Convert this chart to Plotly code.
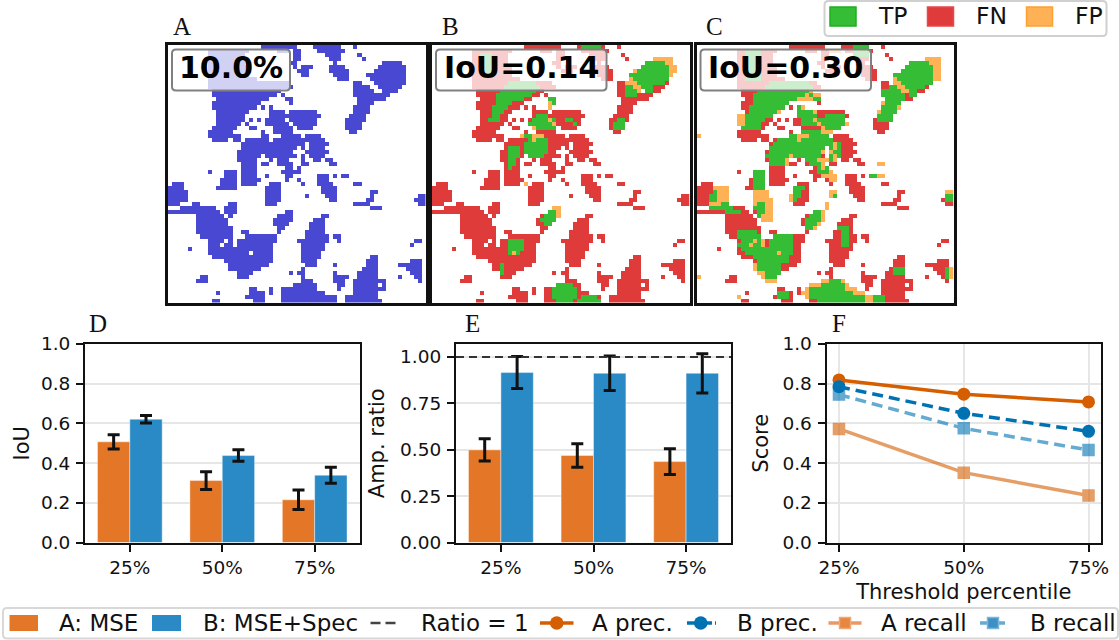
import numpy as np
import plotly.graph_objects as go

W, H = 1119, 640
CATS = ["25%", "50%", "75%"]
IOU_A = [0.507, 0.312, 0.215]
IOU_A_ERR = [0.036, 0.045, 0.049]
IOU_B = [0.621, 0.438, 0.339]
IOU_B_ERR = [0.019, 0.029, 0.04]
AMP_A = [0.499, 0.469, 0.436]
AMP_A_ERR = [0.06, 0.063, 0.07]
AMP_B = [0.916, 0.912, 0.912]
AMP_B_ERR = [0.086, 0.093, 0.106]
A_PREC = [0.819, 0.747, 0.708]
B_PREC = [0.785, 0.651, 0.56]
A_RECALL = [0.572, 0.352, 0.237]
B_RECALL = [0.745, 0.575, 0.466]

# Masks on a 64x64 raster, one entry per row: inclusive column runs
TRUTH = [
 [(23,31),(36,42),(46,46)],
 [(10,19),(27,29),(31,32),(37,43)],
 [(10,18),(31,32),(39,42),(47,47)],
 [(10,18),(31,32),(40,42),(48,48)],
 [(10,18),(30,31),(41,41),(53,57)],
 [(10,19),(31,31),(33,35),(40,43),(52,58)],
 [(10,19),(32,34),(40,44),(51,58)],
 [(10,19),(33,34),(41,44),(49,58)],
 [(10,21),(42,44),(50,58)],
 [(10,29),(46,47),(51,58)],
 [(10,30),(46,49),(52,57)],
 [(11,27),(46,50),(53,56)],
 [(11,26),(28,28),(46,51),(52,54)],
 [(12,24),(29,30),(47,51),(52,53)],
 [(11,22),(30,30),(47,50)],
 [(11,21),(23,23),(25,25),(46,49)],
 [(12,19),(25,28),(30,36),(46,49)],
 [(12,18),(25,29),(30,37),(45,48)],
 [(12,18),(20,20),(22,22),(24,28),(30,36),(44,48)],
 [(12,17),(19,19),(24,29),(31,36),(44,47)],
 [(11,16),(20,21),(26,30),(32,35),(44,47)],
 [(10,15),(23,23),(26,30),(45,46)],
 [(10,15),(16,17),(23,24),(28,32),(34,37)],
 [(11,14),(16,17),(19,24),(26,33),(34,38)],
 [(18,33),(35,39)],
 [(18,31),(33,33),(35,38)],
 [(17,30),(34,39)],
 [(17,22),(24,28),(29,31),(33,33),(35,38)],
 [(17,21),(25,25),(27,29),(33,33),(36,37),(39,40)],
 [(18,21),(23,24),(27,30),(33,34),(40,41)],
 [(18,21),(29,30),(32,32)],
 [(10,10),(14,16),(18,21),(28,30),(31,32)],
 [(14,16),(18,21),(24,24),(29,30),(37,39),(41,41),(43,44)],
 [(13,16),(18,22),(29,29),(32,32),(37,39)],
 [(1,3),(13,16),(18,21),(25,27),(33,33),(37,40),(46,47)],
 [(0,3),(12,16),(24,27),(38,41)],
 [(0,4),(24,27),(38,41),(50,51)],
 [(0,4),(24,27),(34,34),(39,41),(50,50),(62,63)],
 [(0,4),(24,27),(40,41),(49,50),(61,63)],
 [(0,2),(6,7),(15,16),(24,26),(46,49),(62,63)],
 [(3,9),(10,11),(14,16),(50,52)],
 [(0,1),(2,12),(14,16),(29,30)],
 [(7,13),(15,15),(27,30),(38,39)],
 [(7,14),(26,30),(36,37),(38,38)],
 [(7,14),(26,29),(35,37),(38,38)],
 [(7,15),(27,28),(35,38)],
 [(7,9),(10,15),(18,19),(27,27),(34,38)],
 [(8,9),(10,15),(19,19),(20,26),(34,39),(41,42)],
 [(10,13),(15,15),(17,17),(18,26),(32,33),(34,39),(42,42),(61,62)],
 [(10,12),(14,15),(17,25),(33,38),(60,60)],
 [(5,5),(10,15),(16,23),(24,25),(33,38)],
 [(10,16),(17,19),(21,25),(33,37)],
 [(11,25),(33,37),(50,51)],
 [(14,25),(33,36),(49,51),(60,62)],
 [(15,24),(34,36),(41,41),(49,51),(57,62)],
 [(15,22),(33,33),(48,51),(59,62)],
 [(17,20),(30,30),(32,33),(41,41),(47,51),(60,62)],
 [(8,9),(17,19),(33,33),(41,44),(47,51),(57,57),(61,62)],
 [(7,9),(33,35),(41,43),(46,51),(52,53),(62,62)],
 [(31,36),(42,43),(46,51),(53,53)],
 [(20,21),(25,25),(28,36),(42,42),(46,53)],
 [(12,12),(20,23),(25,25),(28,38),(46,51)],
 [(19,23),(28,41),(44,51)],
 [(11,12),(21,23),(28,41),(44,52)],
]

PRED_B = {
 0:[(37,41)], 2:[(12,14)], 3:[(12,14),(55,59)], 4:[(12,14),(53,59)], 5:[(12,14),(52,60)],
 6:[(12,14),(50,60)], 7:[(49,59)], 8:[(49,58)], 9:[(19,25),(48,57)], 10:[(18,26),(48,54)],
 11:[(17,25),(48,51),(53,54)], 12:[(16,24),(48,50)], 13:[(16,22),(29,30)], 14:[(16,19),(29,30)],
 15:[(15,18),(29,29)], 16:[(15,17)], 17:[(15,16),(26,28)], 18:[(14,16),(25,30),(33,34),(46,47)],
 19:[(24,30),(35,35),(45,47)], 20:[(25,30),(45,47)], 22:[(22,27)], 23:[(24,28)], 24:[(23,28)],
 25:[(19,21),(23,28)], 26:[(19,21),(23,28)], 27:[(19,21),(24,27)], 28:[(19,20)], 29:[(19,20)],
 30:[(19,19)], 34:[(23,23)], 40:[(30,31)], 41:[(29,31)], 42:[(28,31)], 43:[(27,30)], 44:[(28,29)],
 48:[(19,22)], 49:[(19,22)], 50:[(19,22)], 51:[(19,21)], 54:[(17,17)], 55:[(17,17)], 56:[(17,17)],
 59:[(31,34)], 60:[(30,35)], 61:[(30,35)], 62:[(30,35),(37,40)], 63:[(31,34),(36,41)],
}

PRED_C = {
 0:[(39,42)], 1:[(12,15),(33,35),(39,42)], 2:[(12,15),(39,42)], 3:[(12,15),(57,60)],
 4:[(12,15),(53,60)], 5:[(12,15),(52,60)], 6:[(12,15),(51,60)], 7:[(12,15),(49,60)],
 8:[(12,15),(49,60)], 9:[(18,27),(49,58)], 10:[(17,28),(48,56)], 11:[(15,28),(46,54)],
 12:[(14,30),(46,51),(53,54)], 13:[(14,30),(47,51)], 14:[(14,22),(46,50)], 15:[(13,21),(25,26),(46,50)],
 16:[(13,20),(25,29),(45,49)], 17:[(10,18),(25,29),(32,36),(45,48)], 18:[(10,16),(26,31),(32,36),(45,48)],
 19:[(10,15),(26,31),(32,37)], 20:[(11,15),(31,35)], 21:[(26,33)], 22:[(0,0),(23,32)],
 23:[(20,33)], 24:[(19,32),(33,35)], 25:[(18,31),(33,35)], 26:[(18,31),(33,35)],
 27:[(17,30),(33,35)], 28:[(18,22),(27,32),(33,34)], 29:[(18,22),(28,31),(45,46)], 30:[(30,32)],
 31:[(14,16),(30,33)], 32:[(14,16),(31,34),(43,46)], 33:[(14,16),(33,34)], 34:[(14,16)],
 35:[(4,7),(14,16),(24,26)], 36:[(4,7),(14,17),(24,25),(33,34),(62,63)], 37:[(3,7),(14,17),(23,25),(33,34),(62,63)],
 38:[(3,7),(14,18),(23,24),(62,63)], 39:[(3,7),(14,18),(32,32)], 40:[(3,8),(14,18),(32,32)],
 41:[(7,10),(15,18),(29,31)], 42:[(15,18),(28,31)], 43:[(16,18),(27,31)], 44:[(27,30)],
 45:[(27,29),(35,37)], 46:[(10,14),(36,37)], 47:[(10,15),(19,23),(36,37)], 48:[(11,16),(18,23),(36,37)],
 49:[(10,16),(18,23),(36,37)], 50:[(11,23)], 51:[(12,23)], 52:[(14,22)], 53:[(15,22)],
 54:[(14,20)], 55:[(14,20),(49,51),(62,63)], 56:[(15,20),(49,51),(62,63)], 57:[(0,0),(16,19),(62,63)],
 58:[(17,19),(31,36)], 59:[(28,37)], 60:[(27,39)], 61:[(20,22),(26,41)], 62:[(10,10),(20,22),(27,42),(43,46)],
 63:[(30,42),(43,46)],
}

ORANGE = "#E37627"; BLUE = "#2A8AC5"
C_A = "#D55E00"; C_B = "#0072B2"
C_TP = "#35BD35"; C_FN = "#E03B3B"; C_FP = "#FFB155"; C_MASK = "#4848D2"
FONT = "DejaVu Sans"; SERIF = "Liberation Serif"


def raster(runs_by_row):
    m = np.zeros((64, 64), dtype=bool)
    items = enumerate(runs_by_row) if isinstance(runs_by_row, list) else runs_by_row.items()
    for r, runs in items:
        for a, b in runs:
            m[r, a:b + 1] = True
    return m


truth = raster(TRUTH)


def classes(pred):
    p = raster(pred)
    z = np.zeros((64, 64), dtype=int)
    z[truth & ~p] = 1
    z[truth & p] = 2
    z[~truth & p] = 3
    return z


def px(x):
    return x / W


def py(y):
    return 1 - y / H


fig = go.Figure()


def dom(x0, x1, y0, y1):
    return dict(domain=[px(x0), px(x1)]), dict(domain=[py(y1), py(y0)])


AX = dict(showline=True, mirror=True, linecolor="#111", linewidth=2, zeroline=False, anchor=None)
panels = [(168, 425.5, 45, 302.5), (431.5, 689.5, 45, 302.5), (696.5, 953.5, 45, 302.5)]
layout = {}
scale_mask = [[0, "white"], [1, C_MASK]]
scale_cls = [[0, "white"], [0.25, "white"], [0.25, C_FN], [0.5, C_FN], [0.5, C_TP], [0.75, C_TP], [0.75, C_FP], [1, C_FP]]
zs = [truth.astype(int), classes(PRED_B), classes(PRED_C)]
for i, (p, z) in enumerate(zip(panels, zs)):
    xa, ya = dom(*p)
    xn, yn = f"x{i+1}", f"y{i+1}"
    fig.add_trace(go.Heatmap(z=z, xaxis=xn, yaxis=yn, showscale=False, hoverinfo="skip",
                             zmin=0, zmax=1 if i == 0 else 4,
                             colorscale=scale_mask if i == 0 else scale_cls))
    layout[f"xaxis{i+1}"] = dict(xa, **{**AX, "anchor": yn, "linewidth": 2.5}, showticklabels=False, ticks="", showgrid=False, range=[-0.5, 63.5])
    layout[f"yaxis{i+1}"] = dict(ya, **{**AX, "anchor": xn, "linewidth": 2.5}, showticklabels=False, ticks="", showgrid=False, range=[63.5, -0.5])

GRID = "#E6E6E6"
TICK = dict(ticks="outside", ticklen=7, tickwidth=1.5, tickcolor="#111", tickfont=dict(family=FONT, size=18.5, color="#111"))
x_positions = [0, 1, 2]
bot = [(85, 359.5, 344, 542.5), (456, 731, 344, 542.5), (826.5, 1101, 344, 542.5)]
ranges = [[0, 1], [0, 1.07], [0, 1]]
ytitles = ["IoU", "Amp. ratio", "Score"]
ystandoff = [6, 10, 8]
yticks = [[0, .2, .4, .6, .8, 1], [0, .25, .5, .75, 1], [0, .2, .4, .6, .8, 1]]
ytext = [["0.0", "0.2", "0.4", "0.6", "0.8", "1.0"], ["0.00", "0.25", "0.50", "0.75", "1.00"], ["0.0", "0.2", "0.4", "0.6", "0.8", "1.0"]]
for j, (b, rg) in enumerate(zip(bot, ranges)):
    i = j + 4
    xa, ya = dom(*b)
    layout[f"xaxis{i}"] = dict(xa, **{**AX, "anchor": f"y{i}"}, **TICK,
                               range=[-0.1, 2.1] if j == 2 else [-0.485, 2.485],
                               tickmode="array", tickvals=x_positions, ticktext=CATS,
                               showgrid=j == 2, gridcolor=GRID, gridwidth=1.5)
    layout[f"yaxis{i}"] = dict(ya, **{**AX, "anchor": f"x{i}"}, **TICK, range=rg, ticklabelstandoff=2,
                               tickmode="array", tickvals=yticks[j], ticktext=ytext[j],
                               showgrid=True, gridcolor=GRID, gridwidth=1.5,
                               title=dict(text=ytitles[j], font=dict(family=FONT, size=21, color="#111"), standoff=ystandoff[j]))
layout["xaxis6"]["title"] = dict(text="Threshold percentile", font=dict(family=FONT, size=21, color="#111"), standoff=8)

for i, (ya, ea, yb, eb) in zip([4, 5], [(IOU_A, IOU_A_ERR, IOU_B, IOU_B_ERR), (AMP_A, AMP_A_ERR, AMP_B, AMP_B_ERR)]):
    for vals, errs, col, off in [(ya, ea, ORANGE, -0.175), (yb, eb, BLUE, 0.175)]:
        fig.add_trace(go.Bar(x=[v + off for v in x_positions], y=vals, width=0.35, marker_color=col,
                             marker_line=dict(color="rgba(255,255,255,0.4)", width=1),
                             error_y=dict(type="data", array=errs, color="#111", thickness=3, width=6),
                             xaxis=f"x{i}", yaxis=f"y{i}", showlegend=False))
fig.add_trace(go.Scatter(x=[-0.485, 2.485], y=[1, 1], mode="lines", xaxis="x5", yaxis="y5", showlegend=False,
                         line=dict(color="#333", width=2.2, dash="8px,5px")))

for vals, col, sym, dash, op, w, lw in [
    (A_RECALL, C_A, "square", "solid", 0.6, 3.5, 1.5),
    (B_RECALL, C_B, "square", "11px,6px", 0.6, 3.5, 1.5),
    (A_PREC, C_A, "circle", "solid", 1, 3.5, 0),
    (B_PREC, C_B, "circle", "11px,6px", 1, 3.5, 0),
]:
    fig.add_trace(go.Scatter(x=x_positions, y=vals, mode="lines+markers", xaxis="x6", yaxis="y6", showlegend=False,
                             opacity=op, line=dict(color=col, width=w, dash=dash),
                             marker=dict(symbol=sym, size=11 if sym == "square" else 13, color=col,
                                         line=dict(color=col, width=lw))))

ann = []
shapes = []


def text(x, y, s, size, family=FONT, anchor="left", yanchor="middle", color="#111", **kw):
    ann.append(dict(x=px(x), y=py(y), xref="paper", yref="paper", text=s, showarrow=False, xanchor=anchor, yanchor=yanchor,
                    xshift=0, font=dict(family=family, size=size, color=color), **kw))


def round_box(x0, y0, x1, y1, r, fill, line, lw):
    X = lambda v: f"{px(v):.5f}"
    Y = lambda v: f"{py(v):.5f}"
    d = (f"M {X(x0+r)} {Y(y0)} L {X(x1-r)} {Y(y0)} Q {X(x1)} {Y(y0)} {X(x1)} {Y(y0+r)} L {X(x1)} {Y(y1-r)} "
         f"Q {X(x1)} {Y(y1)} {X(x1-r)} {Y(y1)} L {X(x0+r)} {Y(y1)} Q {X(x0)} {Y(y1)} {X(x0)} {Y(y1-r)} "
         f"L {X(x0)} {Y(y0+r)} Q {X(x0)} {Y(y0)} {X(x0+r)} {Y(y0)} Z")
    shapes.append(dict(type="path", path=d, xref="paper", yref="paper", fillcolor=fill, line=dict(color=line, width=lw)))


def rect(x0, y0, x1, y1, fill, line=None, lw=0):
    shapes.append(dict(type="rect", xref="paper", yref="paper", x0=px(x0), x1=px(x1), y0=py(y1), y1=py(y0),
                       fillcolor=fill, line=dict(color=line or fill, width=lw)))


def seg(x0, x1, y, col, w, dash="solid", op=1):
    shapes.append(dict(type="line", xref="paper", yref="paper", x0=px(x0), x1=px(x1), y0=py(y), y1=py(y), opacity=op,
                       line=dict(color=col, width=w, dash=dash)))


# panel letters
for s, x, y in [("A", 170.5, 37), ("B", 440, 37), ("C", 704, 37), ("D", 86.5, 334), ("E", 463, 334), ("F", 830, 334)]:
    text(x, y, s, 25, family=SERIF, yanchor="bottom")
    ann[-1]["yshift"] = -5

# metric boxes
for x0, x1, s in [(172, 290, "10.0%"), (436, 606.5, "IoU=0.14"), (700.5, 871, "IoU=0.30")]:
    round_box(x0, 49.5, x1, 90.5, 4, "rgba(255,255,255,0.75)", "#808080", 2)
    text((x0 + x1) / 2, 68, f"<b>{s}</b>", 30, anchor="center", color="black")

# top legend
round_box(824.5, 1, 1106.5, 36, 4, "rgba(255,255,255,0.9)", "#D0D0D0", 2)
for x0, col, edge, tx, s in [(830, C_TP, "#1FAF1F", 876, "TP"), (927.5, C_FN, "#E8474C", 973.5, "FN"), (1026.5, C_FP, "#FFA033", 1072.5, "FP")]:
    rect(x0, 7, x0 + 26, 26, col, edge, 1.5)
    text(tx, 16, s, 23.5)

# bottom legend
round_box(3, 608, 1118, 638.5, 4, "rgba(255,255,255,0.9)", "#D8D8D8", 2)
rect(9.5, 615, 38, 631, ORANGE)
text(57, 623, "A: MSE", 23)
rect(152, 615, 181, 631, BLUE)
text(200.5, 623, "B: MSE+Spec", 23)
seg(370.5, 400, 623, "#444", 2.5, "10px,5px")
text(419, 623, "Ratio = 1", 23)
seg(540, 573.5, 623, C_A, 3.5)
shapes.append(dict(type="circle", xref="paper", yref="paper", x0=px(550), x1=px(563.5), y0=py(629.7), y1=py(616.3), fillcolor=C_A, line=dict(width=0)))
text(590, 623, "A prec.", 23)
seg(687, 716, 623, C_B, 3.5, "11px,3px")
shapes.append(dict(type="circle", xref="paper", yref="paper", x0=px(694), x1=px(707.5), y0=py(629.7), y1=py(616.3), fillcolor=C_B, line=dict(width=0)))
text(735, 623, "B prec.", 23)
seg(828.5, 861.5, 623, "#E89A66", 3.5)
rect(839.5, 617.5, 850.5, 628.5, "#E8853F", "#EDA878", 1.5)
text(878.5, 623, "A recall", 23)
seg(980, 1008, 623, "#66AAD1", 3.5, "11px,3px")
rect(987.5, 617.5, 998.5, 628.5, "#3D8FC4", "#7DB6DA", 1.5)
text(1028, 623, "B recall", 23)

fig.update_layout(width=W, height=H, margin=dict(l=0, r=0, t=0, b=0, pad=0, autoexpand=False), paper_bgcolor="white", plot_bgcolor="white",
                  showlegend=False, barmode="overlay", annotations=ann, shapes=shapes, **layout)
fig.write_html("out.html", config={"displayModeBar": False},
               post_script="document.body.style.margin='0';document.documentElement.style.overflow='hidden';")
